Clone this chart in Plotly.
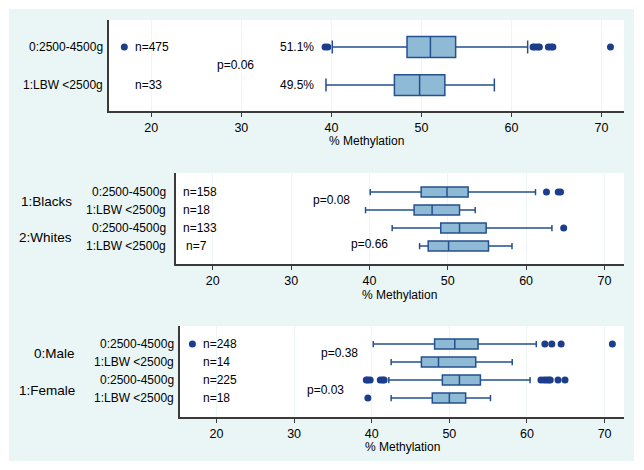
import plotly.graph_objects as go

W, H = 644, 470

# ---------------- data ----------------
weight_labels = ["0:2500-4500g", "1:LBW <2500g"]
tick_vals = [20, 30, 40, 50, 60, 70]

# Panel 1: birth weight
bw_n = ["n=475", "n=33"]
bw_pct = ["51.1%", "49.5%"]
bw_low = [40.1, 39.4]
bw_q1 = [48.4, 47.0]
bw_med = [51.0, 49.8]
bw_q3 = [53.8, 52.6]
bw_high = [61.8, 58.1]
bw_out = [[17.0, 39.3, 39.6, 62.4, 62.6, 62.9, 63.1, 64.1, 64.4, 64.6, 71.0], []]
bw_p = "p=0.06"

# Panel 2: race x birth weight
race_groups = ["1:Blacks", "2:Whites"]
race_n = ["n=158", "n=18", "n=133", "n=7"]
race_low = [40.1, 39.5, 42.9, 46.4]
race_q1 = [46.6, 45.7, 49.1, 47.5]
race_med = [49.9, 48.0, 51.5, 50.1]
race_q3 = [52.6, 51.5, 54.9, 55.2]
race_high = [61.2, 53.5, 63.3, 58.2]
race_out = [[62.6, 64.1, 64.4], [], [64.8], []]
race_p = ["p=0.08", "p=0.66"]

# Panel 3: sex x birth weight
sex_groups = ["0:Male", "1:Female"]
sex_n = ["n=248", "n=14", "n=225", "n=18"]
sex_low = [40.2, 42.5, 42.2, 42.5]
sex_q1 = [48.1, 46.4, 49.1, 47.8]
sex_med = [50.7, 48.6, 51.3, 50.0]
sex_q3 = [53.7, 53.4, 54.0, 52.1]
sex_high = [61.2, 58.1, 60.4, 55.3]
sex_out = [[16.9, 62.3, 63.2, 64.4, 71.0], [],
           [39.3, 39.5, 39.8, 41.1, 41.4, 41.6, 61.8, 62.2, 62.5, 62.8, 63.0, 64.0, 64.9],
           [39.5]]
sex_p = ["p=0.38", "p=0.03"]

# ---------------- style ----------------
FONT = "Arial, Liberation Sans, sans-serif"
BOX_LINE = "#24508f"
BOX_FILL = "#8fbad6"
DOT = "#1b3d8c"
MINT = "#eaf6f5"
AXIS = "#3a3a3a"
GRID = "#edf5f5"


def fx(p):
    return p / W


def fy(p):
    return 1 - p / H


fig = go.Figure()

panels = [
    dict(ax="", rows=[0, 1], low=bw_low, q1=bw_q1, med=bw_med, q3=bw_q3, high=bw_high,
         out=bw_out, width=0.55, xdom=(109, 624), ydom=(20, 111), yr=[1.68, -0.71]),
    dict(ax="2", rows=[0, 1, 2, 3], low=race_low, q1=race_q1, med=race_med, q3=race_q3,
         high=race_high, out=race_out, width=0.56, xdom=(176, 624), ydom=(173, 264),
         yr=[4.0, -1.06]),
    dict(ax="3", rows=[0, 1, 2, 3], low=sex_low, q1=sex_q1, med=sex_med, q3=sex_q3,
         high=sex_high, out=sex_out, width=0.56, xdom=(180, 624), ydom=(326, 417),
         yr=[4.05, -1.0]),
]

shapes = [dict(type="rect", xref="paper", yref="paper", x0=fx(9), x1=fx(634),
               y0=fy(461), y1=fy(9), fillcolor=MINT, line=dict(width=0), layer="below")]

for pn in panels:
    xa, ya = "x" + pn["ax"], "y" + pn["ax"]
    fig.add_trace(go.Box(
        y=pn["rows"], q1=pn["q1"], median=pn["med"], q3=pn["q3"],
        lowerfence=pn["low"], upperfence=pn["high"], orientation="h",
        boxpoints=False, width=pn["width"], whiskerwidth=0.62,
        fillcolor=BOX_FILL, line=dict(color=BOX_LINE, width=1.5),
        xaxis=xa, yaxis=ya, showlegend=False, hoverinfo="skip"))
    ox, oy = [], []
    for r, vals in zip(pn["rows"], pn["out"]):
        ox += vals
        oy += [r] * len(vals)
    fig.add_trace(go.Scatter(x=ox, y=oy, mode="markers",
                             marker=dict(color=DOT, size=7, line=dict(width=0)),
                             xaxis=xa, yaxis=ya, showlegend=False, hoverinfo="skip"))
    x0, x1 = pn["xdom"]
    y0, y1 = pn["ydom"]
    shapes.append(dict(type="rect", xref="paper", yref="paper", x0=fx(x0), x1=fx(x1),
                       y0=fy(y1), y1=fy(y0), fillcolor="white", line=dict(width=0),
                       layer="below"))
    xkey = "xaxis" + pn["ax"]
    ykey = "yaxis" + pn["ax"]
    fig.update_layout(**{
        xkey: dict(domain=[fx(x0), fx(x1)], anchor=ya, range=[15.3, 72.5],
                   tickvals=tick_vals, ticks="outside", ticklen=4, tickwidth=1,
                   tickcolor=AXIS, showline=True, linecolor=AXIS, linewidth=1.5,
                   showgrid=True, gridcolor=GRID, gridwidth=1, zeroline=False,
                   ticklabelstandoff=0,
                   tickfont=dict(family=FONT, size=12.5, color="black")),
        ykey: dict(domain=[fy(y1), fy(y0)], anchor=xa, range=pn["yr"],
                   showticklabels=False, ticks="", showline=True, linecolor=AXIS,
                   linewidth=1.5, showgrid=False, zeroline=False),
    })

ann = []


def text(t, x, y, xref, yref, xanchor="center", size=12):
    ann.append(dict(text=t, x=x, y=y, xref=xref, yref=yref, xanchor=xanchor,
                    yanchor="middle", showarrow=False,
                    font=dict(family=FONT, size=size, color="black")))


# Panel 1 texts
for i, r in enumerate([0, 1]):
    text(weight_labels[i], fx(105), r, "paper", "y", "right")
    text(bw_n[i], 18.0, r, "x", "y", "left")
    text(bw_pct[i], 38.3, r, "x", "y", "right")
text(bw_p, 29.3, 0.47, "x", "y")
text("% Methylation", fx((109 + 624) / 2), fy(141), "paper", "paper")

# Panel 2 texts
for i, r in enumerate([0, 1, 2, 3]):
    text(weight_labels[i % 2], fx(168), r, "paper", "y2", "right")
    text(race_n[i], 16.0 if i < 3 else 16.3, r, "x2", "y2", "left")
for g, r in zip(race_groups, [0.5, 2.55]):
    text(g, fx(74), r, "paper", "y2", "right", 13.5)
text(race_p[0], 35.1, 0.45, "x2", "y2")
text(race_p[1], 40.0, 2.9, "x2", "y2")
text("% Methylation", fx((176 + 624) / 2), fy(295), "paper", "paper")

# Panel 3 texts
for i, r in enumerate([0, 1, 2, 3]):
    text(weight_labels[i % 2], fx(176), r, "paper", "y3", "right")
    text(sex_n[i], 18.0, r, "x3", "y3", "left")
for g, r in zip(sex_groups, [0.5, 2.6]):
    text(g, fx(77), r, "paper", "y3", "right", 13.5)
text(sex_p[0], 35.8, 0.5, "x3", "y3")
text(sex_p[1], 34.0, 2.55, "x3", "y3")
text("% Methylation", fx((180 + 624) / 2), fy(447), "paper", "paper")

fig.update_layout(width=W, height=H, margin=dict(l=0, r=0, t=0, b=0),
                  paper_bgcolor="white", plot_bgcolor="rgba(0,0,0,0)",
                  shapes=shapes, annotations=ann, showlegend=False,
                  font=dict(family=FONT, size=12, color="black"))

fig.write_html("out.html", config={"displayModeBar": False},
               post_script="document.body.style.margin='0';")
